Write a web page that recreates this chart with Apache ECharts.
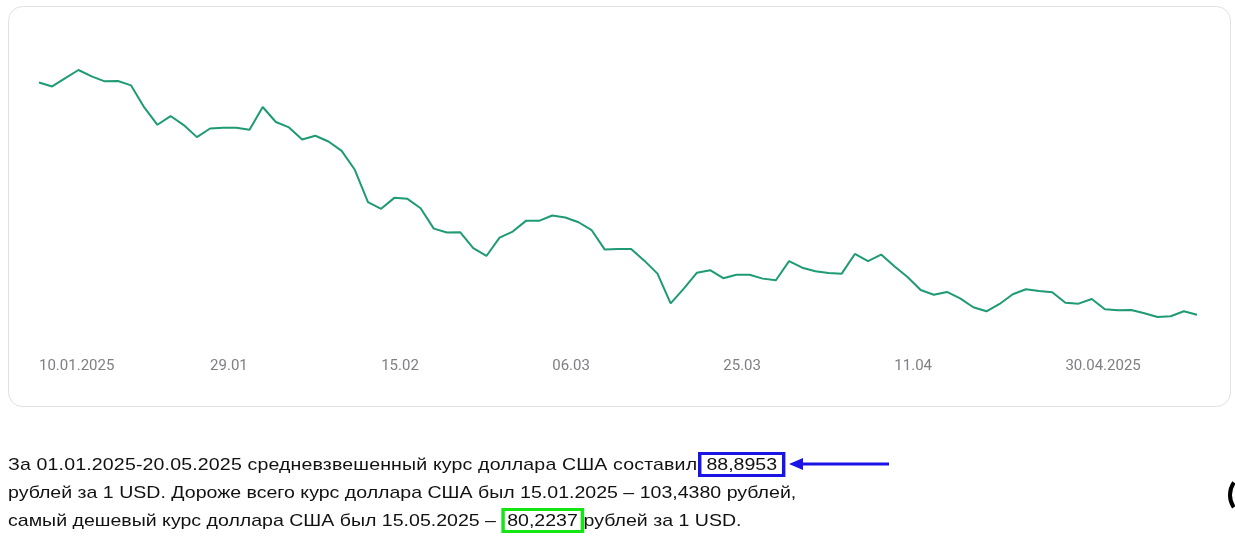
<!DOCTYPE html>
<html>
<head>
<meta charset="utf-8">
<script src="https://cdn.jsdelivr.net/npm/echarts@6/dist/echarts.min.js"></script>
<style>
  html, body { margin: 0; padding: 0; background: #ffffff; }
  #chart { position: absolute; left: 0; top: 0; width: 1235px; height: 536px; }
  #txt { position: absolute; left: 8px; top: 451px; font-family: "Liberation Sans", Arial, sans-serif;
         font-size: 17px; line-height: 28px; color: #111; white-space: nowrap;
         transform: scaleX(1.15); transform-origin: 0 0; }
  .l1 { letter-spacing: 0.13px; }
  .bx { border: 3px solid #1a14e6; padding: 0 4px; letter-spacing: 0; margin-left: 1px; }
  .gx { border: 3px solid #14e614; padding: 0 2px; }
</style>
</head>
<body>
<div id="chart"></div>
<div id="txt">
  <div class="l1">За 01.01.2025-20.05.2025 средневзвешенный курс доллара США составил<span class="bx">88,8953</span></div>
  <div>рублей за 1 USD. Дороже всего курс доллара США был 15.01.2025 – 103,4380 рублей,</div>
  <div>самый дешевый курс доллара США был 15.05.2025 – <span class="gx">80,2237</span>рублей за 1 USD.</div>
</div>
<script>
const dates = [
  "10.01.2025","11.01.2025","14.01.2025","15.01.2025","16.01.2025","17.01.2025","18.01.2025","21.01.2025","22.01.2025","23.01.2025",
  "24.01.2025","25.01.2025","28.01.2025","29.01.2025","30.01.2025","31.01.2025","01.02.2025","04.02.2025","05.02.2025","06.02.2025",
  "07.02.2025","08.02.2025","11.02.2025","12.02.2025","13.02.2025","14.02.2025","15.02.2025","18.02.2025","19.02.2025","20.02.2025",
  "21.02.2025","22.02.2025","25.02.2025","26.02.2025","27.02.2025","28.02.2025","01.03.2025","04.03.2025","05.03.2025","06.03.2025",
  "07.03.2025","08.03.2025","11.03.2025","12.03.2025","13.03.2025","14.03.2025","15.03.2025","18.03.2025","19.03.2025","20.03.2025",
  "21.03.2025","22.03.2025","25.03.2025","26.03.2025","27.03.2025","28.03.2025","29.03.2025","01.04.2025","02.04.2025","03.04.2025",
  "04.04.2025","05.04.2025","08.04.2025","09.04.2025","10.04.2025","11.04.2025","12.04.2025","15.04.2025","16.04.2025","17.04.2025",
  "18.04.2025","19.04.2025","22.04.2025","23.04.2025","24.04.2025","25.04.2025","26.04.2025","29.04.2025","30.04.2025","01.05.2025",
  "06.05.2025","07.05.2025","08.05.2025","13.05.2025","14.05.2025","15.05.2025","16.05.2025","17.05.2025","20.05.2025"
];
const usdRub = [
  102.27,101.89,102.67,103.438,102.84,102.37,102.40,101.99,99.92,98.29,
  99.11,98.26,97.13,97.94,98.01,98.01,97.82,99.96,98.55,98.04,
  96.91,97.26,96.72,95.84,94.06,91.02,90.39,91.42,91.33,90.45,
  88.53,88.16,88.19,86.69,85.96,87.69,88.25,89.26,89.26,89.76,
  89.57,89.13,88.38,86.56,86.62,86.62,85.52,84.30,81.51,82.89,
  84.39,84.62,83.87,84.20,84.20,83.83,83.68,85.47,84.86,84.52,
  84.36,84.30,86.15,85.47,86.09,84.99,83.99,82.76,82.32,82.58,
  81.98,81.14,80.76,81.45,82.36,82.83,82.67,82.55,81.57,81.48,
  81.92,80.95,80.85,80.88,80.57,80.2237,80.29,80.76,80.44
];
const labelStep = 13;

const lastLabelIdx = Math.floor((dates.length - 1) / labelStep) * labelStep;
const chart = echarts.init(document.getElementById('chart'), null, { renderer: 'canvas' });
chart.setOption({
  animation: false,
  grid: { left: 39, right: 38, top: 70, bottom: 219 },
  xAxis: {
    type: 'category',
    data: dates,
    boundaryGap: false,
    axisLine: { show: false },
    axisTick: { show: false },
    splitLine: { show: false },
    axisLabel: {
      interval: labelStep - 1,
      align: 'left',
      margin: 42,
      color: '#7d7f83',
      fontFamily: 'Roboto',
      fontSize: 15,
      formatter: function (v, i) {
        return (i === 0 || i === lastLabelIdx) ? v : v.slice(0, 5);
      }
    }
  },
  yAxis: { type: 'value', min: 'dataMin', max: 'dataMax', show: false, splitLine: { show: false } },
  series: [{
    type: 'line',
    data: usdRub,
    showSymbol: false,
    lineStyle: { color: '#1e9a74', width: 2 },
    itemStyle: { color: '#1e9a74' },
    z: 5
  }],
  graphic: [
    { type: 'rect', z: -10, silent: true,
      shape: { x: 8.5, y: 6.5, width: 1222, height: 400, r: 14 },
      style: { fill: '#ffffff', stroke: '#dde1e4', lineWidth: 1 } },
    { type: 'line', silent: true,
      shape: { x1: 889, y1: 464, x2: 800, y2: 464 },
      style: { stroke: '#1a14e6', lineWidth: 3 } },
    { type: 'polygon', silent: true,
      shape: { points: [[789, 464], [803, 458], [803, 470]] },
      style: { fill: '#1a14e6' } },
    { type: 'arc', silent: true,
      shape: { cx: 1252, cy: 495, r: 22, startAngle: 2.55, endAngle: 3.75 },
      style: { stroke: '#000', lineWidth: 4, fill: null } }
  ]
});
</script>
</body>
</html>
